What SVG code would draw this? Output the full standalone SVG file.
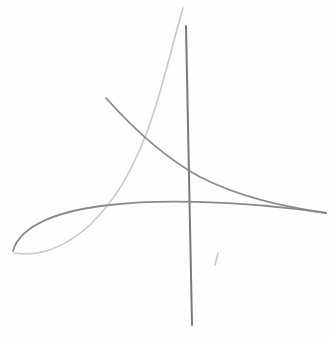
<svg xmlns="http://www.w3.org/2000/svg" width="331" height="338" viewBox="0 0 331 338">
<style>
.dark{fill:none;stroke:#7a7a7a;stroke-width:2;stroke-linecap:round}
.mid{fill:none;stroke:#8a8a8a;stroke-width:1.8;stroke-linecap:round}
.light{fill:none;stroke:#c8c8c8;stroke-width:1.6;stroke-linecap:round}
</style>
<rect width="331" height="338" fill="#fefefe"/>
<g id="connectors">
<path class="dark" d="M186,26 C187,120 189,220 192,325"/>
<path class="light" d="M183,8 C172,45 160,100 145,137 C130,175 115,200 90,225 C70,243 45,258 14,253"/>
<path class="mid" d="M13,251 C20,225 60,210 110,205 C150,200 230,199 326,213"/>
<path class="mid" d="M106,98 C130,125 160,155 200,177 C240,197 280,206 326,213"/>
<path class="light" d="M218,253 L215,265"/>
</g>
</svg>
